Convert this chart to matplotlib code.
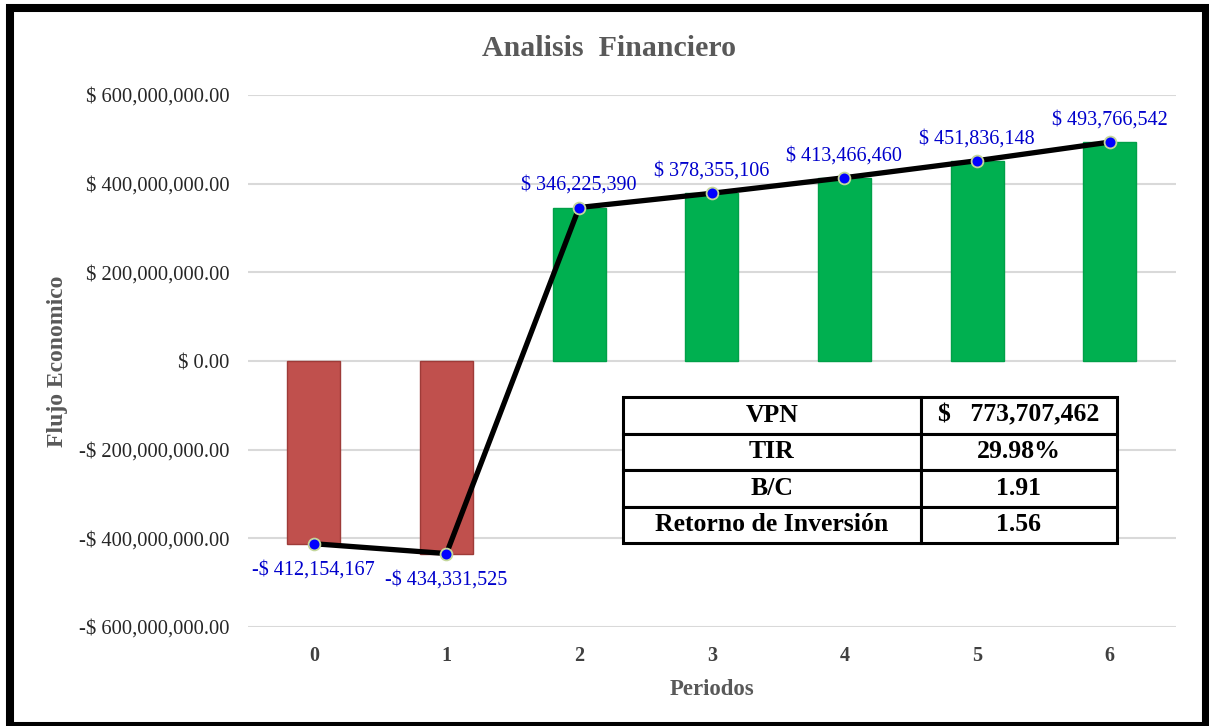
import matplotlib.pyplot as plt
from matplotlib.patches import Rectangle
from matplotlib.ticker import FuncFormatter

periodos = [0, 1, 2, 3, 4, 5, 6]
flujo = [-412154167, -434331525, 346225390, 378355106, 413466460, 451836148, 493766542]
yticks = [-600e6, -400e6, -200e6, 0, 200e6, 400e6, 600e6]

tabla_nombres = ['VPN', 'TIR', 'B/C', 'Retorno de Inversión']
tabla_valores = ['$   773,707,462', '29.98%', '1.91', '1.56']

plt.rcParams['font.family'] = ['Liberation Serif', 'DejaVu Serif']

W, H = 1209, 726
fig = plt.figure(figsize=(W / 100, H / 100), dpi=100)

# axes placed in pixel terms
x0, x1, ytop, ybot = 247.5, 1176, 95, 627
ax = fig.add_axes([x0 / W, (H - ybot) / H, (x1 - x0) / W, (ybot - ytop) / H])

colors = ['#C0504D' if v < 0 else '#00B050' for v in flujo]
edges = ['#9E3B38' if v < 0 else '#00A048' for v in flujo]
ax.bar(periodos, flujo, width=0.4, color=colors, edgecolor=edges, linewidth=1, zorder=2)
ax.plot(periodos, flujo, color='black', lw=3.8, zorder=3,
        marker='o', markersize=8.5, markerfacecolor='#0000FF',
        markeredgecolor='#C4D79B', markeredgewidth=1.3)

for x, v in zip(periodos, flujo):
    if v < 0:
        txt = '-$ {:,.0f}'.format(abs(v))
        ax.annotate(txt, (x, v), xytext=(0, -12), textcoords='offset points',
                    ha='center', va='top', color='#0000CC', fontsize=14.5, zorder=4)
    else:
        txt = '$ {:,.0f}'.format(v)
        ax.annotate(txt, (x, v), xytext=(0, 9), textcoords='offset points',
                    ha='center', va='bottom', color='#0000CC', fontsize=14.5, zorder=4)

ax.set_xlim(-0.5, 6.5)
ax.set_ylim(-600e6, 600e6)
ax.set_yticks(yticks)
ax.set_xticks(periodos)


def fmt(v, pos):
    if v < 0:
        return '-$ {:,.2f}'.format(abs(v))
    return '$ {:,.2f}'.format(v)


ax.yaxis.set_major_formatter(FuncFormatter(fmt))
ax.grid(axis='y', color='#D9D9D9', lw=1.5, zorder=0)
ax.set_axisbelow(True)
for s in ax.spines.values():
    s.set_visible(False)
ax.tick_params(axis='y', length=0, pad=13, labelsize=14.8, labelcolor='#262626')
ax.tick_params(axis='x', length=0, pad=14, labelsize=14.5, labelcolor='#404040')
for lab in ax.get_xticklabels():
    lab.set_fontweight('bold')

ax.set_xlabel('Periodos', fontsize=16.5, fontweight='bold', color='#595959', labelpad=9)
fig.text(58 / W, 1 - 361 / H, 'Flujo Economico', rotation=90, ha='center', va='center',
         fontsize=17, fontweight='bold', color='#595959')
fig.text(609 / W, 1 - 48 / H, 'Analisis  Financiero', ha='center', va='center',
         fontsize=21.5, fontweight='bold', color='#595959')

# summary table
tx0, tx1, ty0, ty1 = 623, 1117, 397, 543
bbox = [(tx0 - x0) / (x1 - x0), (ybot - ty1) / (ybot - ytop),
        (tx1 - tx0) / (x1 - x0), (ty1 - ty0) / (ybot - ytop)]
cells = [[n, v] for n, v in zip(tabla_nombres, tabla_valores)]
tbl = ax.table(cellText=cells, colWidths=[0.603, 0.397], bbox=bbox, cellLoc='center')
tbl.auto_set_font_size(False)
for (r, c), cell in tbl.get_celld().items():
    cell.set_linewidth(2.2)
    cell.set_edgecolor('black')
    cell.set_facecolor('white')
    cell.get_text().set_fontsize(18.5)
    cell.get_text().set_fontweight('bold')
tbl.set_zorder(5)

# outer frame
fig.patches.append(Rectangle((10 / W, 0), (1205.5 - 10) / W, (H - 8 - 0) / H,
                             transform=fig.transFigure, fill=False,
                             edgecolor='black', lw=5.8, clip_on=False))

fig.savefig('out.png', dpi=100)
